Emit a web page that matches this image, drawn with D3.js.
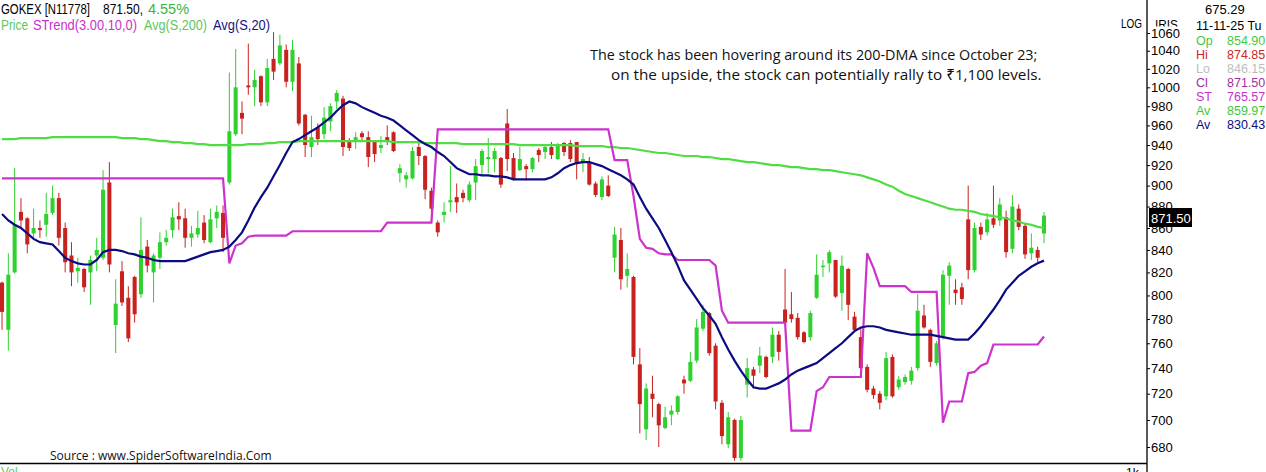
<!DOCTYPE html>
<html><head><meta charset="utf-8">
<script src="https://cdn.jsdelivr.net/npm/d3@7"></script>
<style>html,body{margin:0;padding:0;background:#fff;overflow:hidden}</style>
</head><body>
<svg id="c" width="1266" height="472"></svg>
<script>
// ---------- DATA ----------
const open = [
 811,771,820,875,869,855,860,863,874,888,
 860,835,821,823,820,835,833,903,775,821,
 798,816,801,843,820,833,847,858,871,869,
 851,854,865,847,869,874,903,951,973,1002,
 1000,1012,984,1031,1026,1041,1006,1026,971,938,
 958,951,964,985,988,943,943,952,948,943,
 937,948,953,912,906,907,938,929,895,865,
 872,884,889,893,886,903,920,926,926,927,
 962,927,915,919,916,935,933,938,926,942,
 942,943,923,923,902,889,900,833,849,817,
 816,743,693,720,712,694,704,706,731,730,
 746,772,785,758,713,682,700,672,727,739,
 742,749,749,767,788,784,781,769,765,798,
 825,828,831,802,823,782,765,741,724,720,
 718,749,725,729,730,740,783,771,744,765,
 817,805,807,868,822,861,856,869,867,870,
 841,878,862,837,840,854.90];
const high = [
 812,837,917,888,870,878,867,893,900,893,
 865,847,833,824,835,851,915,923,814,830,
 808,817,870,849,837,856,858,878,884,878,
 862,876,872,878,881,881,1016,1042,985,1048,
 1019,1013,1031,1061,1058,1047,1052,1033,972,970,
 962,979,983,997,991,947,953,954,954,944,
 949,960,954,921,913,938,943,930,898,867,
 884,919,902,896,904,926,936,947,937,928,
 977,932,938,921,928,937,939,943,942,943,
 945,943,932,928,904,909,910,861,860,837,
 817,756,728,734,713,710,711,719,734,753,
 780,792,786,760,715,706,701,703,748,741,
 757,750,773,770,823,803,785,770,787,836,
 831,840,831,835,824,786,773,743,726,722,
 753,751,734,735,741,801,792,772,762,822,
 829,814,811,900,865,865,874,900,888,876,
 891,882,864,855,843,874.85];
const low = [
 771,754,819,860,837,851,851,852,872,844,
 820,808,811,803,792,821,831,820,752,791,
 761,777,798,820,794,823,844,851,858,842,
 843,851,846,846,860,838,901,949,951,992,
 980,980,980,1008,1024,1000,996,960,928,928,
 940,946,954,977,929,934,936,943,918,923,
 932,940,933,903,898,906,920,887,865,852,
 865,875,874,884,884,886,910,912,913,898,
 914,905,914,905,913,923,926,926,925,929,
 923,906,913,900,889,886,889,820,805,807,
 743,690,685,702,680,693,696,704,720,729,
 744,770,750,708,682,679,670,670,717,724,
 736,732,744,746,776,777,763,760,762,797,
 816,820,798,787,779,771,738,721,716,708,
 715,717,723,727,727,738,772,741,742,763,
 792,792,792,814,820,849,853,860,862,833,
 837,858,832,831,829,846.15];
const close = [
 786,818,863,867,845,860,858,873,888,851,
 829,820,824,807,831,840,896,827,793,794,
 764,784,840,826,835,847,851,870,868,851,
 855,860,849,868,875,851,954,1000,967,1000,
 1008,984,1021,1017,1046,1006,1041,962,940,948,
 946,968,980,994,938,937,948,948,928,931,
 940,944,934,917,910,934,929,896,878,856,
 875,886,884,888,901,919,934,928,934,901,
 926,906,926,916,927,930,938,930,939,933,
 926,921,926,901,891,906,890,854,814,823,
 749,712,724,716,696,702,707,718,728,745,
 773,786,752,714,688,702,672,700,740,734,
 750,733,767,753,777,780,765,761,785,818,
 826,838,799,826,792,771,740,723,719,713,
 748,718,731,733,738,787,773,745,760,818,
 826,802,797,822,860,854,868,863,882,838,
 880,861,836,842,833,871.50];
const superTrend = [
 907,907,907,907,907,907,907,907,907,907,
 907,907,907,907,907,907,907,907,907,907,
 907,907,907,907,907,907,907,907,907,907,
 907,907,907,907,907,907,828,844,846,852,
 853,853,853,853,853,853,857,857,857,857,
 857,857,857,857,857,857,857,857,857,857,
 857,865,865,865,865,865,865,865,865,956,
 956,956,956,956,956,956,956,956,956,956,
 956,956,956,956,956,956,956,956,956,956,
 956,956,956,956,956,956,956,925,925,925,
 890,850,842,841,837,836,836,831,831,831,
 831,831,831,826,787,777,777,777,777,777,
 777,777,777,777,777,692,692,692,692,722,
 725,733,733,733,733,733,733,837,824,808,
 808,808,808,808,803,803,803,803,803,698,
 714,714,714,736,737,742,744,759,759,759,
 759,759,759,759,759,765.57];
const sma200 = [
 946,946,946,947,947,947,947,947,948,948,
 948,948,948,948,948,948,948,948,948,947,
 947,947,946,946,945,944,944,943,943,942,
 942,941,941,940,940,940,940,940,940,941,
 941,941,942,942,943,943,943,944,944,944,
 944,944,944,944,944,944,944,944,944,944,
 944,944,943,943,943,943,943,942,942,942,
 942,942,942,941,941,941,941,941,941,941,
 941,941,940,940,940,940,940,940,940,940,
 940,939,939,939,939,939,938,938,937,937,
 936,935,934,933,932,932,931,930,929,929,
 929,928,928,927,926,926,925,924,923,923,
 922,921,920,920,919,918,918,917,916,916,
 915,915,914,913,912,911,910,908,906,904,
 901,899,895,892,890,888,886,884,882,880,
 878,877,877,876,875,873,872,871,870,869,
 867,866,864,863,861,859.97];
const sma20 = [
 873,867,863,860,855,850,847,846,845,839,
 833,830,828,827,827,831,838,840,840,839,
 837,836,834,833,831,830,830,830,830,830,
 832,834,836,838,839,840,843,849,856,867,
 879,889,898,909,920,932,943,946,950,954,
 958,963,968,975,981,985,983,979,976,973,
 970,968,965,960,955,950,945,941,938,933,
 929,923,917,914,911,911,910,910,909,909,
 908,906,906,906,906,906,906,908,912,917,
 920,922,923,923,921,919,916,913,910,906,
 901,889,878,869,860,849,838,826,813,805,
 797,789,783,776,765,755,746,738,731,725,
 724,724,726,728,731,735,738,740,742,744,
 748,752,756,760,765,770,773,774,774,773,
 771,770,769,768,767,767,767,767,766,765,
 764,763,763,763,768,774,781,788,796,805,
 811,817,821,825,828,830.43];
const priceTicks = [680,700,720,740,760,780,800,820,840,860,880,900,920,940,960,980,1000,1020,1040,1060];
const sessions = close.map((d,i)=>i);
const infoRows = [
 {label:"Op", value:"854.90", c:"#45c845"},
 {label:"Hi", value:"874.85", c:"#c82828"},
 {label:"Lo", value:"846.15", c:"#bdbdbd"},
 {label:"Cl", value:"871.50", c:"#a22ea2"},
 {label:"ST", value:"765.57", c:"#c832c8"},
 {label:"Av", value:"859.97", c:"#3cc83c"},
 {label:"Av", value:"830.43", c:"#0c0c80"}
];

// ---------- CHART ----------
const svg = d3.select("#c");
const FONT = "'Liberation Sans', Arial, sans-serif";
const x = d3.scaleBand().domain(sessions).range([0, 1046]).paddingInner(0.36);
const cx = i => x(i) + x.bandwidth()/2;
const y = d3.scaleLog().domain([680, 1060]).range([447, 33]);

const GREEN = "#2fd12f", RED = "#c8221f";

const cg = svg.append("g");
sessions.forEach(i => {
  const o = open[i], c = close[i], up = c >= o;
  const col = up ? GREEN : RED;
  cg.append("line").attr("x1", cx(i)).attr("x2", cx(i))
    .attr("y1", y(high[i])).attr("y2", y(low[i]))
    .attr("stroke", col).attr("stroke-width", 1);
  const top = y(Math.max(o, c)), bot = y(Math.min(o, c));
  cg.append("rect").attr("x", x(i)).attr("width", x.bandwidth())
    .attr("y", top).attr("height", Math.max(1.5, bot - top)).attr("fill", col);
});

const line = arr => d3.line().x((d,i)=>cx(i)).y(d=>y(d))(arr);
svg.append("path").attr("d", line(sma200)).attr("fill","none").attr("stroke","#4fdc44").attr("stroke-width",2.2);
svg.append("path").attr("d", line(superTrend)).attr("fill","none").attr("stroke","#cc33cc").attr("stroke-width",2.2);
svg.append("path").attr("d", line(sma20)).attr("fill","none").attr("stroke","#0c0c82").attr("stroke-width",2.2);

// right price axis
const AX = 1147;
svg.append("line").attr("x1",AX).attr("x2",AX).attr("y1",0).attr("y2",472).attr("stroke","#000").attr("stroke-width",1.3);
svg.append("line").attr("x1",0).attr("x2",AX).attr("y1",463.5).attr("y2",463.5).attr("stroke","#000").attr("stroke-width",1.3);

function txt(str, x0, yb, size, col, w){
  const t = svg.append("text").attr("x",x0).attr("y",yb).text(str)
    .attr("font-family",FONT).attr("font-size",size).attr("fill",col);
  if (w) t.attr("textLength", w).attr("lengthAdjust","spacingAndGlyphs");
  return t;
}

txt("LOG", 1121, 28, 13, "#000", 21);
txt("IRIS", 1155, 29, 13, "#000", 23);
svg.append("rect").attr("x",1149).attr("y",26.5).attr("width",36).attr("height",9).attr("fill","#fff");

const axis = d3.axisRight(y).tickValues(priceTicks).tickFormat(d3.format("d")).tickSize(3).tickPadding(1);
const ag = svg.append("g").attr("transform",`translate(${AX},0)`).call(axis);
ag.select(".domain").remove();
ag.selectAll("text").attr("font-family",FONT).attr("font-size",13).attr("fill","#000");
ag.selectAll("line").attr("stroke","#000");

svg.append("rect").attr("x",1149).attr("y",208).attr("width",43).attr("height",19).attr("fill","#000");
txt("871.50", 1151, 222.5, 13, "#fff");

// info panel
txt("675.29", 1205, 14, 13, "#000");
txt("11-11-25 Tu", 1196, 29.5, 12.5, "#000");
infoRows.forEach((r,k) => {
  const by = 44.5 + k*14;
  txt(r.label, 1196, by, 12.5, r.c);
  txt(r.value, 1227, by, 12.5, r.c);
});

// legend top-left (condensed to the reference widths)
const leg = [
 {t:"GOKEX [N11778]", x:1, y:14, w:89, c:"#000"},
 {t:"871.50,", x:103, y:14, w:40, c:"#000"},
 {t:"4.55%", x:148, y:14, w:41, c:"#3cb43c"},
 {t:"Price", x:1, y:29.5, w:27, c:"#5cc85c"},
 {t:"STrend(3.00,10,0)", x:33, y:29.5, w:104, c:"#c832c8"},
 {t:"Avg(S,200)", x:144, y:29.5, w:63, c:"#5cc85c"},
 {t:"Avg(S,20)", x:213, y:29.5, w:57, c:"#141480"}
];
leg.forEach(l => txt(l.t, l.x, l.y, 14, l.c, l.w));

function fitText(str, x0, yb, targetW, size, fam, col){
  const t = svg.append("text").attr("x",x0).attr("y",yb).text(str)
    .attr("font-family",fam).attr("font-size",size).attr("fill",col);
  const w = t.node().getComputedTextLength();
  if (w > 0) t.attr("font-size", size*targetW/w);
  return t;
}
const AFONT = "'Open Sans','Noto Sans','DejaVu Sans',sans-serif";
fitText("The stock has been hovering around its 200-DMA since October 23;", 590, 60, 448, 15, AFONT, "#111");
fitText("on the upside, the stock can potentially rally to \u20B91,100 levels.", 611, 80, 431, 15, AFONT, "#111");
fitText("Source : www.SpiderSoftwareIndia.Com", 50, 459.5, 222, 13, AFONT, "#111");

txt("Vol", 1, 476, 12, "#5cc85c");
txt("1k", 1126, 477, 12, "#000");
</script></body></html>
